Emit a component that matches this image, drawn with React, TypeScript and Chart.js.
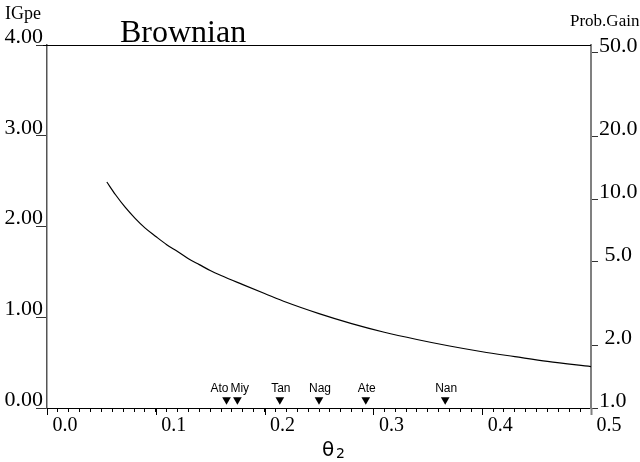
import { useEffect, useRef } from 'react';
import { Chart, registerables } from 'chart.js';

Chart.register(...registerables);

// Curve: IGpe as a function of theta2 (Brownian model)
const curveTheta = [0.055, 0.063, 0.072, 0.081, 0.09, 0.1, 0.11, 0.12, 0.13, 0.14, 0.15, 0.16, 0.18, 0.2, 0.22, 0.25, 0.28, 0.31, 0.34, 0.37, 0.4, 0.43, 0.46, 0.5];
const curveIGpe = [2.49, 2.35, 2.21, 2.09, 1.985, 1.89, 1.8, 1.725, 1.645, 1.58, 1.515, 1.46, 1.36, 1.262, 1.165, 1.04, 0.93, 0.835, 0.755, 0.683, 0.62, 0.566, 0.513, 0.456];

// Site markers along the x axis
const siteNames = ['Ato', 'Miy', 'Tan', 'Nag', 'Ate', 'Nan'];
const siteTheta = [0.165, 0.175, 0.214, 0.25, 0.293, 0.366];
const siteLevel = 0.09;

// Axis ticks
const xMajorTicks = [0, 0.1, 0.2, 0.3, 0.4, 0.5];
const leftTicks = [0, 1, 2, 3, 4];
const rightTicks = [1, 2, 5, 10, 20, 50];
const rightLabels = ['1.0', ' 2.0', ' 5.0', '10.0', '20.0', '50.0'];
const rightMax = Math.exp(4); // probability gain = exp(IGpe)

const SERIF = '"Liberation Serif", "Times New Roman", serif';
const SANS = '"Liberation Sans Narrow", "Liberation Sans", Arial, sans-serif';

const decorPlugin = {
  id: 'decor',
  afterDraw(chart: any) {
    const ctx = chart.ctx as CanvasRenderingContext2D;
    const { left, right, top, bottom } = chart.chartArea;
    const xs = chart.scales.x;
    const ys = chart.scales.y;
    ctx.save();
    // top border
    ctx.strokeStyle = '#000';
    ctx.lineWidth = 1;
    ctx.beginPath();
    ctx.moveTo(left - 4, Math.round(top) + 0.5);
    ctx.lineTo(right, Math.round(top) + 0.5);
    ctx.stroke();
    // major x ticks
    xMajorTicks.forEach((v, i) => {
      const last = i === xMajorTicks.length - 1;
      const px = Math.round(xs.getPixelForValue(v)) + 0.5;
      ctx.strokeStyle = last ? '#808080' : '#000';
      ctx.lineWidth = last ? 2 : 1;
      ctx.beginPath();
      ctx.moveTo(px, bottom);
      ctx.lineTo(px, bottom + 7);
      ctx.stroke();
    });
    // site labels
    ctx.fillStyle = '#000';
    ctx.font = '12px ' + SANS;
    ctx.textBaseline = 'alphabetic';
    siteNames.forEach((name, i) => {
      const px = xs.getPixelForValue(siteTheta[i]);
      const py = ys.getPixelForValue(siteLevel) - 8;
      if (i === 0) {
        ctx.textAlign = 'right';
        ctx.fillText(name, px + 2, py);
      } else if (i === 1) {
        ctx.textAlign = 'left';
        ctx.fillText(name, px - 7, py);
      } else {
        ctx.textAlign = 'center';
        ctx.fillText(name, px + 1, py);
      }
    });
    // titles
    ctx.textAlign = 'left';
    ctx.font = '32px ' + SERIF;
    ctx.fillText('Brownian', 120, 42);
    ctx.font = '18px ' + SERIF;
    ctx.fillText('IGpe', 5, 19);
    ctx.font = '17px ' + SERIF;
    ctx.fillText('Prob.Gain', 570, 26);
    // x axis title
    ctx.font = '20px "DejaVu Sans", sans-serif';
    ctx.fillText('\u03B8', 322, 456);
    ctx.font = '14px "DejaVu Sans", sans-serif';
    ctx.fillText('2', 336, 458);
    ctx.restore();
  },
};

export default function App() {
  const ref = useRef<HTMLCanvasElement>(null);

  useEffect(() => {
    document.body.style.margin = '0';
    const canvas = ref.current;
    if (!canvas) return;
    const chart = new Chart(canvas, {
      type: 'line',
      data: {
        datasets: [
          {
            data: curveTheta.map((t, i) => ({ x: t, y: curveIGpe[i] })),
            borderColor: '#000',
            borderWidth: 1.2,
            pointRadius: 0,
            cubicInterpolationMode: 'monotone',
            xAxisID: 'x',
            yAxisID: 'y',
          },
          {
            data: siteTheta.map((t) => ({ x: t, y: siteLevel })),
            showLine: false,
            pointStyle: 'triangle',
            rotation: 180,
            pointRadius: 5,
            backgroundColor: '#000',
            borderColor: '#000',
            borderWidth: 0,
            xAxisID: 'x',
            yAxisID: 'y',
          },
        ],
      },
      options: {
        responsive: false,
        animation: false,
        layout: { padding: { top: 45, left: 0, right: 0, bottom: 0 } },
        plugins: {
          legend: { display: false },
          tooltip: { enabled: false },
        },
        scales: {
          x: {
            type: 'linear',
            position: 'bottom',
            min: 0,
            max: 0.5,
            afterFit: (s: any) => {
              s.height = 54;
            },
            ticks: {
              stepSize: 0.01,
              autoSkip: false,
              maxRotation: 0,
              labelOffset: 18,
              padding: 2,
              color: '#000',
              font: { family: SERIF, size: 20 },
              callback: (v: any) => {
                const n = Number(v);
                return Math.abs(n * 10 - Math.round(n * 10)) < 1e-6 ? n.toFixed(1) : '';
              },
            },
            grid: { drawOnChartArea: false, drawTicks: true, tickLength: 4, color: '#000' },
            border: { display: true, color: '#000', width: 1 },
          },
          y: {
            type: 'linear',
            position: 'left',
            min: 0,
            max: 4,
            afterFit: (s: any) => {
              s.width = 47;
            },
            afterBuildTicks: (s: any) => {
              s.ticks = leftTicks.map((v) => ({ value: v }));
            },
            ticks: {
              padding: -7,
              labelOffset: -8,
              color: '#000',
              font: { family: SERIF, size: 22 },
              callback: (v: any) => Number(v).toFixed(2),
            },
            grid: { drawOnChartArea: false, drawTicks: true, tickLength: 11, color: '#333' },
            border: { display: true, color: '#555', width: 1.5 },
          },
          y1: {
            type: 'logarithmic',
            position: 'right',
            min: 1,
            max: rightMax,
            afterFit: (s: any) => {
              s.width = 49;
            },
            afterBuildTicks: (s: any) => {
              s.ticks = rightTicks.map((v) => ({ value: v }));
            },
            ticks: {
              padding: 1,
              labelOffset: -7,
              color: '#000',
              font: { family: SERIF, size: 22 },
              callback: (v: any) => {
                const idx = rightTicks.indexOf(Number(v));
                return idx >= 0 ? rightLabels[idx] : '';
              },
            },
            grid: { drawOnChartArea: false, drawTicks: true, tickLength: 7, color: '#333' },
            border: { display: true, color: '#808080', width: 2 },
          },
        },
      } as any,
      plugins: [decorPlugin],
    });
    return () => chart.destroy();
  }, []);

  return <canvas ref={ref} width={640} height={462} style={{ display: 'block' }} />;
}
